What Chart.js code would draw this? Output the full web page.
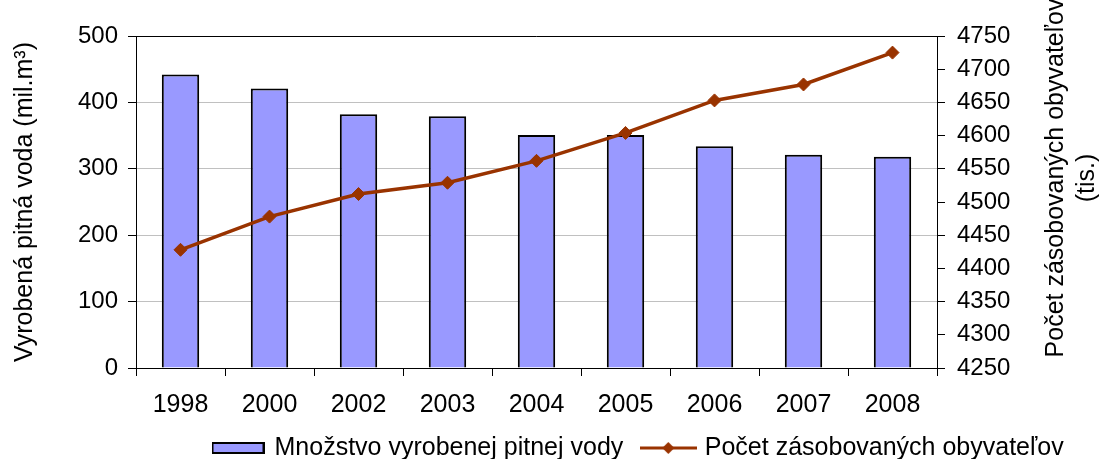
<!DOCTYPE html>
<html>
<head>
<meta charset="utf-8">
<script src="https://cdn.jsdelivr.net/npm/chart.js@4.4.1/dist/chart.umd.min.js"></script>
<style>
  html, body { margin: 0; padding: 0; background: #ffffff; }
  #wrap { width: 1106px; height: 459px; }
</style>
</head>
<body>
<div id="wrap"><canvas id="c" width="1106" height="459"></canvas></div>
<script>
// ---- Data ----
const years = ['1998', '2000', '2002', '2003', '2004', '2005', '2006', '2007', '2008'];
const producedWater = [442, 421, 382, 379, 351, 351, 334, 321, 318];
const suppliedPopulation = [4428, 4478, 4512, 4529, 4562, 4604, 4653, 4677, 4725];
const leftAxisRange = [0, 500, 100];
const rightAxisRange = [4250, 4750, 50];
const barLabel = 'Množstvo vyrobenej pitnej vody';
const lineLabel = 'Počet zásobovaných obyvateľov';
const leftTitle = 'Vyrobená pitná voda (mil.m³)';
const rightTitleLines = ['Počet zásobovaných obyvateľov', '(tis.)'];

// ---- Styles ----
const FONT = '"Liberation Sans", Arial, sans-serif';
const BAR_FILL = '#9999FF';
const LINE_COLOR = '#993300';

function makeBarSwatch() {
  const c = document.createElement('canvas');
  c.width = 53; c.height = 12;
  const x = c.getContext('2d');
  x.fillStyle = BAR_FILL; x.fillRect(0, 0, 53, 12);
  x.strokeStyle = '#000'; x.lineWidth = 2; x.strokeRect(1, 1, 51, 10);
  return c;
}
function makeLineSwatch() {
  const c = document.createElement('canvas');
  c.width = 57; c.height = 14;
  const x = c.getContext('2d');
  x.strokeStyle = LINE_COLOR; x.lineWidth = 3;
  x.beginPath(); x.moveTo(0, 7); x.lineTo(57, 7); x.stroke();
  x.fillStyle = LINE_COLOR;
  x.beginPath(); x.moveTo(28.5 - 6, 7); x.lineTo(28.5, 1); x.lineTo(28.5 + 6, 7); x.lineTo(28.5, 13); x.closePath(); x.fill();
  return c;
}
const swatches = [makeBarSwatch(), makeLineSwatch()];

const LEG_PAD = 21;
const LEG_H = 25 + LEG_PAD + 10;
const X_AXIS_H = 459 - 368 - LEG_H;

const framePlugin = {
  id: 'frame',
  afterLayout(chart) {
    const lg = chart.legend;
    if (lg) {
      const dx = 214 - (lg.left + LEG_PAD);
      const dy = 11.5;
      lg.left += dx; lg.right += dx; lg.top += dy; lg.bottom += dy;
    }
    // let x tick labels extend below the (compact) axis box without being clipped
    if (chart.scales.x) chart.scales.x.bottom = chart.height;
  },
  afterDatasetsDraw(chart) {
    const {ctx, chartArea: a} = chart;
    ctx.save();
    ctx.strokeStyle = '#000'; ctx.lineWidth = 1;
    ctx.beginPath();
    ctx.moveTo(a.left, a.top + 0.5); ctx.lineTo(a.right, a.top + 0.5);
    ctx.stroke();
    ctx.restore();
  },
  afterDraw(chart) {
    const ctx = chart.ctx;
    ctx.save();
    ctx.fillStyle = '#000';
    ctx.font = '25px ' + FONT;
    ctx.textAlign = 'center';
    ctx.textBaseline = 'alphabetic';
    ctx.translate(1063, 178);
    ctx.rotate(-Math.PI / 2);
    ctx.fillText(rightTitleLines[0], 0, 0);
    ctx.fillText(rightTitleLines[1], 0, 31);
    ctx.restore();
  }
};

const plainTick = (v) => String(v);

new Chart(document.getElementById('c'), {
  type: 'bar',
  data: {
    labels: years,
    datasets: [
      {
        type: 'line',
        label: lineLabel,
        data: suppliedPopulation,
        yAxisID: 'y1',
        borderColor: LINE_COLOR,
        backgroundColor: LINE_COLOR,
        borderWidth: 3.5,
        pointStyle: 'rectRot',
        pointRadius: 6.5,
        pointBorderWidth: 1,
        pointBackgroundColor: LINE_COLOR,
        pointBorderColor: LINE_COLOR,
        tension: 0,
        order: 0
      },
      {
        type: 'bar',
        label: barLabel,
        data: producedWater,
        yAxisID: 'y',
        backgroundColor: BAR_FILL,
        borderColor: '#000',
        borderWidth: 2,
        categoryPercentage: 1,
        barPercentage: 0.42,
        order: 1
      }
    ]
  },
  options: {
    responsive: false,
    animation: false,
    devicePixelRatio: 1,
    layout: { padding: { top: 36, left: 0, right: 0, bottom: 0 } },
    plugins: {
      tooltip: { enabled: false },
      legend: {
        position: 'bottom',
        align: 'start',
        labels: {
          usePointStyle: true,
          pointStyleWidth: 48,
          padding: LEG_PAD,
          color: '#000',
          font: { family: FONT, size: 25 },
          generateLabels(chart) {
            return [
              { text: barLabel, pointStyle: swatches[0], datasetIndex: 1, hidden: false, lineWidth: 0, fontColor: '#000' },
              { text: lineLabel, pointStyle: swatches[1], datasetIndex: 0, hidden: false, lineWidth: 0, fontColor: '#000' }
            ];
          }
        }
      }
    },
    scales: {
      x: {
        type: 'category',
        offset: true,
        afterFit(s) { s.height = X_AXIS_H; },
        grid: { display: true, drawOnChartArea: false, offset: true, tickLength: 8, color: '#000', tickColor: '#000' },
        border: { color: '#000', width: 1 },
        ticks: { color: '#000', padding: 14, font: { family: FONT, size: 25 }, maxRotation: 0, autoSkip: false }
      },
      y: {
        type: 'linear',
        position: 'left',
        min: leftAxisRange[0], max: leftAxisRange[1],
        afterFit(s) { s.width = 136; },
        ticks: { stepSize: leftAxisRange[2], color: '#000', padding: 10, font: { family: FONT, size: 24 }, callback: plainTick },
        grid: { color: '#c0c0c0', tickColor: '#000', tickLength: 8, lineWidth: 1 },
        border: { color: '#000', width: 1 },
        title: { display: true, text: leftTitle, color: '#000', font: { family: FONT, size: 25 }, padding: { top: 10, bottom: 0 } }
      },
      y1: {
        type: 'linear',
        position: 'right',
        min: rightAxisRange[0], max: rightAxisRange[1],
        afterFit(s) { s.width = 169; },
        ticks: { stepSize: rightAxisRange[2], color: '#000', padding: 12, font: { family: FONT, size: 24 }, callback: plainTick },
        grid: { drawOnChartArea: false, color: '#000', tickColor: '#000', tickLength: 8 },
        border: { color: '#000', width: 1 }
      }
    }
  },
  plugins: [framePlugin]
});
</script>
</body>
</html>
